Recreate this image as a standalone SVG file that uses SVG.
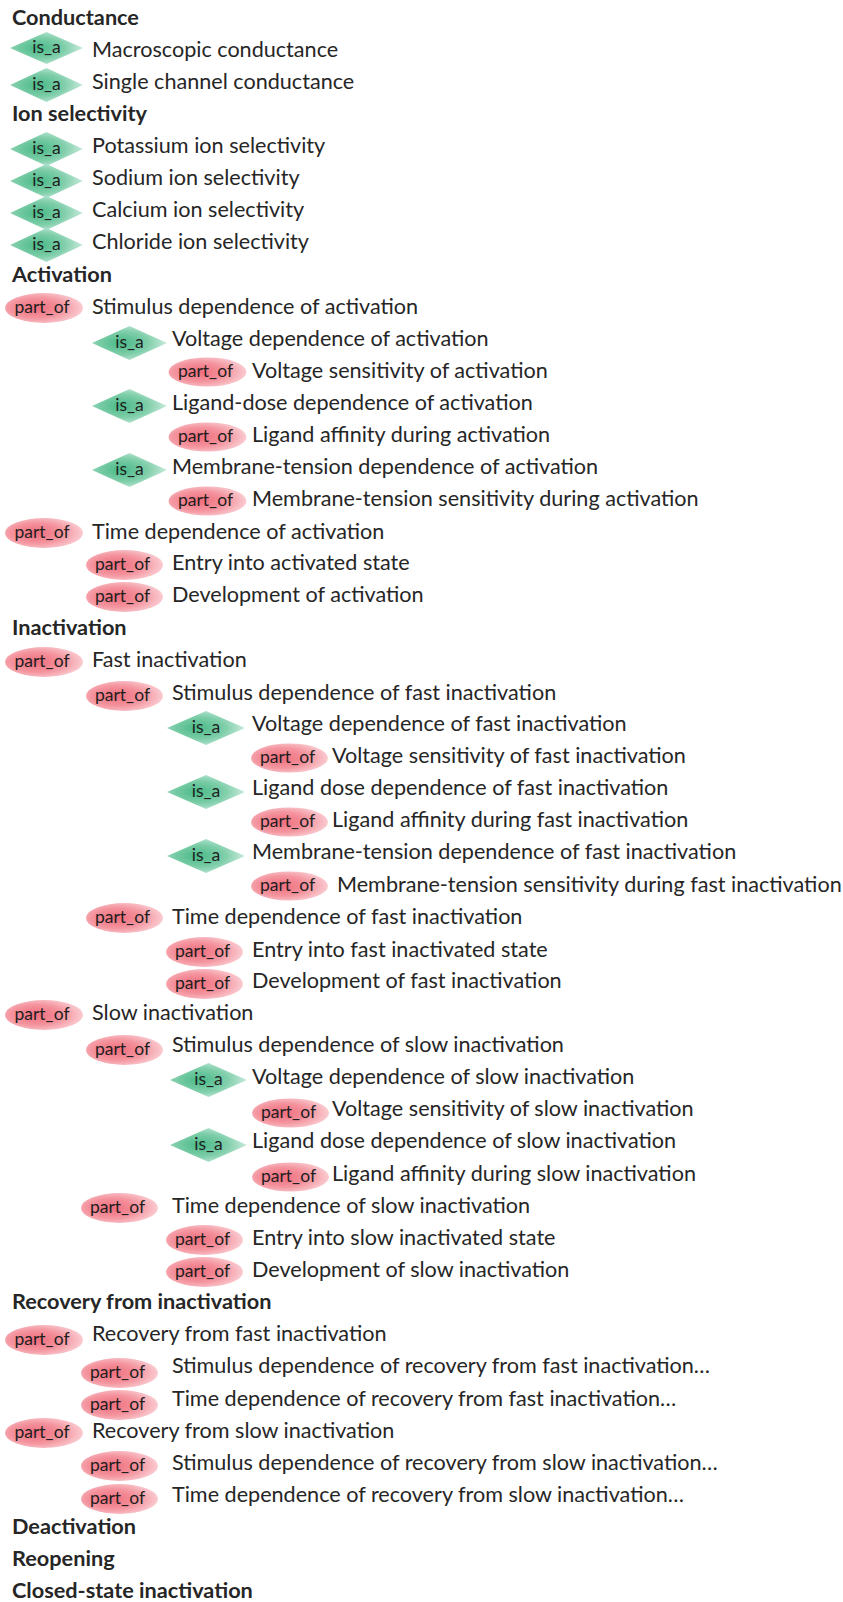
<svg xmlns="http://www.w3.org/2000/svg" width="843" height="1602" viewBox="0 0 843 1602">
<defs>
<radialGradient id="gIs" cx="0.42" cy="0.5" r="0.62" fx="0.38" fy="0.5">
<stop offset="0" stop-color="#48b987"/>
<stop offset="0.55" stop-color="#7fceaa"/>
<stop offset="1" stop-color="#d2efe2"/>
</radialGradient>
<radialGradient id="gPart" cx="0.42" cy="0.5" r="0.62" fx="0.38" fy="0.5">
<stop offset="0" stop-color="#ef6b7b"/>
<stop offset="0.55" stop-color="#f4959f"/>
<stop offset="1" stop-color="#fbd3d8"/>
</radialGradient>
</defs>
<style>
text{font-family:Lato,"Liberation Sans",sans-serif;fill:#262626}
.h{font-weight:bold;font-size:21.7px}
.t{font-size:21.6px}
.l{font-size:17.5px;text-anchor:middle;fill:#1e1e1e}
.d{fill:url(#gIs)}
.e{fill:url(#gPart)}
</style>
<g id="n0"><text class="h" x="12" y="25">Conductance</text></g>
<g id="n1"><path class="d" d="M10,48 L46.5,32 L83,48 L46.5,64 Z"/><text class="l" x="46.5" y="53">is_a</text><text class="t" x="92" y="57">Macroscopic conductance</text></g>
<g id="n2"><path class="d" d="M10,85 L46.5,68 L83,85 L46.5,102 Z"/><text class="l" x="46.5" y="90">is_a</text><text class="t" x="92" y="89">Single channel conductance</text></g>
<g id="n3"><text class="h" x="12" y="121">Ion selectivity</text></g>
<g id="n4"><path class="d" d="M10,149 L46.5,132 L83,149 L46.5,166 Z"/><text class="l" x="46.5" y="154">is_a</text><text class="t" x="92" y="153">Potassium ion selectivity</text></g>
<g id="n5"><path class="d" d="M10,181 L46.5,164 L83,181 L46.5,198 Z"/><text class="l" x="46.5" y="186">is_a</text><text class="t" x="92" y="185">Sodium ion selectivity</text></g>
<g id="n6"><path class="d" d="M10,213 L46.5,196 L83,213 L46.5,230 Z"/><text class="l" x="46.5" y="218">is_a</text><text class="t" x="92" y="217">Calcium ion selectivity</text></g>
<g id="n7"><path class="d" d="M10,245 L46.5,228 L83,245 L46.5,262 Z"/><text class="l" x="46.5" y="250">is_a</text><text class="t" x="92" y="249">Chloride ion selectivity</text></g>
<g id="n8"><text class="h" x="12" y="282">Activation</text></g>
<g id="n9"><ellipse class="e" cx="44" cy="308" rx="39" ry="15"/><text class="l" x="42" y="313">part_of</text><text class="t" x="92" y="314">Stimulus dependence of activation</text></g>
<g id="n10"><path class="d" d="M92,343 L129.5,326 L167,343 L129.5,360 Z"/><text class="l" x="129.5" y="348">is_a</text><text class="t" x="172" y="346">Voltage dependence of activation</text></g>
<g id="n11"><ellipse class="e" cx="207.5" cy="372" rx="39" ry="14.5"/><text class="l" x="205.5" y="377">part_of</text><text class="t" x="252" y="378">Voltage sensitivity of activation</text></g>
<g id="n12"><path class="d" d="M92,406 L129.5,389 L167,406 L129.5,423 Z"/><text class="l" x="129.5" y="411">is_a</text><text class="t" x="172" y="410">Ligand-dose dependence of activation</text></g>
<g id="n13"><ellipse class="e" cx="207.5" cy="437" rx="39" ry="14.5"/><text class="l" x="205.5" y="442">part_of</text><text class="t" x="252" y="442">Ligand affinity during activation</text></g>
<g id="n14"><path class="d" d="M92,470 L129.5,453 L167,470 L129.5,487 Z"/><text class="l" x="129.5" y="475">is_a</text><text class="t" x="172" y="474">Membrane-tension dependence of activation</text></g>
<g id="n15"><ellipse class="e" cx="207.5" cy="501" rx="39" ry="14.5"/><text class="l" x="205.5" y="506">part_of</text><text class="t" x="252" y="506">Membrane-tension sensitivity during activation</text></g>
<g id="n16"><ellipse class="e" cx="44" cy="533" rx="39" ry="15"/><text class="l" x="42" y="538">part_of</text><text class="t" x="92" y="539">Time dependence of activation</text></g>
<g id="n17"><ellipse class="e" cx="124.5" cy="565" rx="38.5" ry="15"/><text class="l" x="122.5" y="570">part_of</text><text class="t" x="172" y="570">Entry into activated state</text></g>
<g id="n18"><ellipse class="e" cx="124.5" cy="597" rx="38.5" ry="15"/><text class="l" x="122.5" y="602">part_of</text><text class="t" x="172" y="602">Development of activation</text></g>
<g id="n19"><text class="h" x="12" y="635">Inactivation</text></g>
<g id="n20"><ellipse class="e" cx="44" cy="662" rx="39" ry="15"/><text class="l" x="42" y="667">part_of</text><text class="t" x="92" y="667">Fast inactivation</text></g>
<g id="n21"><ellipse class="e" cx="124.5" cy="696" rx="38.5" ry="15"/><text class="l" x="122.5" y="701">part_of</text><text class="t" x="172" y="700">Stimulus dependence of fast inactivation</text></g>
<g id="n22"><path class="d" d="M167,728 L206,711 L245,728 L206,745 Z"/><text class="l" x="206" y="733">is_a</text><text class="t" x="252" y="731">Voltage dependence of fast inactivation</text></g>
<g id="n23"><ellipse class="e" cx="289.5" cy="758" rx="38.5" ry="14.5"/><text class="l" x="287.5" y="763">part_of</text><text class="t" x="332" y="763">Voltage sensitivity of fast inactivation</text></g>
<g id="n24"><path class="d" d="M167,792 L206,775 L245,792 L206,809 Z"/><text class="l" x="206" y="797">is_a</text><text class="t" x="252" y="795">Ligand dose dependence of fast inactivation</text></g>
<g id="n25"><ellipse class="e" cx="289.5" cy="822" rx="38.5" ry="14.5"/><text class="l" x="287.5" y="827">part_of</text><text class="t" x="332" y="827">Ligand affinity during fast inactivation</text></g>
<g id="n26"><path class="d" d="M167,856 L206,839 L245,856 L206,873 Z"/><text class="l" x="206" y="861">is_a</text><text class="t" x="252" y="859">Membrane-tension dependence of fast inactivation</text></g>
<g id="n27"><ellipse class="e" cx="289.5" cy="886" rx="38.5" ry="14.5"/><text class="l" x="287.5" y="891">part_of</text><text class="t" x="337" y="892">Membrane-tension sensitivity during fast inactivation</text></g>
<g id="n28"><ellipse class="e" cx="124.5" cy="918" rx="38.5" ry="15"/><text class="l" x="122.5" y="923">part_of</text><text class="t" x="172" y="924">Time dependence of fast inactivation</text></g>
<g id="n29"><ellipse class="e" cx="204.5" cy="952" rx="38.5" ry="15"/><text class="l" x="202.5" y="957">part_of</text><text class="t" x="252" y="957">Entry into fast inactivated state</text></g>
<g id="n30"><ellipse class="e" cx="204.5" cy="984" rx="38.5" ry="15"/><text class="l" x="202.5" y="989">part_of</text><text class="t" x="252" y="988">Development of fast inactivation</text></g>
<g id="n31"><ellipse class="e" cx="44" cy="1015" rx="39" ry="15"/><text class="l" x="42" y="1020">part_of</text><text class="t" x="92" y="1020">Slow inactivation</text></g>
<g id="n32"><ellipse class="e" cx="124.5" cy="1050" rx="38.5" ry="15"/><text class="l" x="122.5" y="1055">part_of</text><text class="t" x="172" y="1052">Stimulus dependence of slow inactivation</text></g>
<g id="n33"><path class="d" d="M170,1080 L208.5,1063 L247,1080 L208.5,1097 Z"/><text class="l" x="208.5" y="1085">is_a</text><text class="t" x="252" y="1084">Voltage dependence of slow inactivation</text></g>
<g id="n34"><ellipse class="e" cx="290.5" cy="1113" rx="38.5" ry="14.5"/><text class="l" x="288.5" y="1118">part_of</text><text class="t" x="332" y="1116">Voltage sensitivity of slow inactivation</text></g>
<g id="n35"><path class="d" d="M170,1145 L208.5,1128 L247,1145 L208.5,1162 Z"/><text class="l" x="208.5" y="1150">is_a</text><text class="t" x="252" y="1148">Ligand dose dependence of slow inactivation</text></g>
<g id="n36"><ellipse class="e" cx="290.5" cy="1177" rx="38.5" ry="14.5"/><text class="l" x="288.5" y="1182">part_of</text><text class="t" x="332" y="1181">Ligand affinity during slow inactivation</text></g>
<g id="n37"><ellipse class="e" cx="119.5" cy="1208" rx="38.5" ry="15"/><text class="l" x="117.5" y="1213">part_of</text><text class="t" x="172" y="1213">Time dependence of slow inactivation</text></g>
<g id="n38"><ellipse class="e" cx="204.5" cy="1240" rx="38.5" ry="15"/><text class="l" x="202.5" y="1245">part_of</text><text class="t" x="252" y="1245">Entry into slow inactivated state</text></g>
<g id="n39"><ellipse class="e" cx="204.5" cy="1272" rx="38.5" ry="15"/><text class="l" x="202.5" y="1277">part_of</text><text class="t" x="252" y="1277">Development of slow inactivation</text></g>
<g id="n40"><text class="h" x="12" y="1309">Recovery from inactivation</text></g>
<g id="n41"><ellipse class="e" cx="44" cy="1340" rx="39" ry="15"/><text class="l" x="42" y="1345">part_of</text><text class="t" x="92" y="1341">Recovery from fast inactivation</text></g>
<g id="n42"><ellipse class="e" cx="119.5" cy="1373" rx="38.5" ry="15"/><text class="l" x="117.5" y="1378">part_of</text><text class="t" x="172" y="1373">Stimulus dependence of recovery from fast inactivation…</text></g>
<g id="n43"><ellipse class="e" cx="119.5" cy="1405" rx="38.5" ry="15"/><text class="l" x="117.5" y="1410">part_of</text><text class="t" x="172" y="1406">Time dependence of recovery from fast inactivation…</text></g>
<g id="n44"><ellipse class="e" cx="44" cy="1433" rx="39" ry="15"/><text class="l" x="42" y="1438">part_of</text><text class="t" x="92" y="1438">Recovery from slow inactivation</text></g>
<g id="n45"><ellipse class="e" cx="119.5" cy="1466" rx="38.5" ry="15"/><text class="l" x="117.5" y="1471">part_of</text><text class="t" x="172" y="1470">Stimulus dependence of recovery from slow inactivation…</text></g>
<g id="n46"><ellipse class="e" cx="119.5" cy="1499" rx="38.5" ry="15"/><text class="l" x="117.5" y="1504">part_of</text><text class="t" x="172" y="1502">Time dependence of recovery from slow inactivation…</text></g>
<g id="n47"><text class="h" x="12" y="1534">Deactivation</text></g>
<g id="n48"><text class="h" x="12" y="1566">Reopening</text></g>
<g id="n49"><text class="h" x="12" y="1598">Closed-state inactivation</text></g>
</svg>
